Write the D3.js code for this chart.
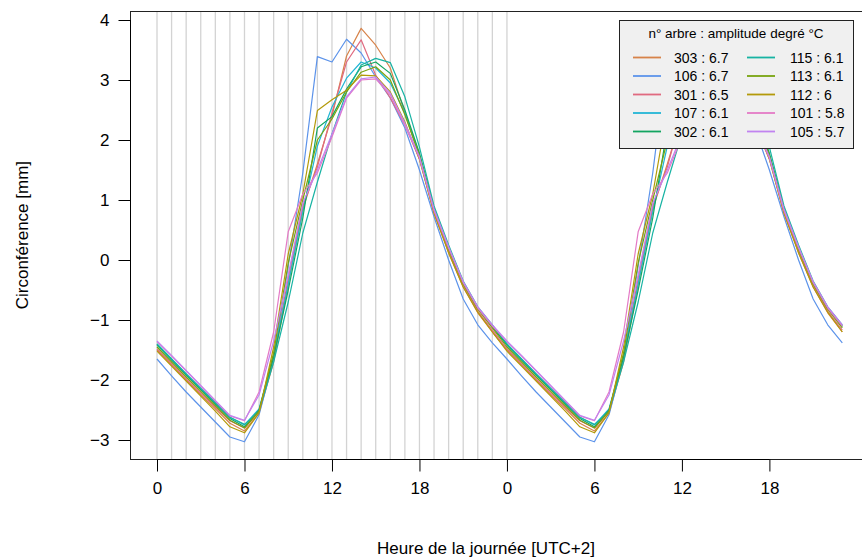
<!DOCTYPE html>
<html>
<head>
<meta charset="utf-8">
<script src="https://cdnjs.cloudflare.com/ajax/libs/d3/7.8.5/d3.min.js"></script>
<style>
  body { margin: 0; background: #fff; }
  text { font-family: "Liberation Sans", Arial, sans-serif; fill: #000; }
</style>
</head>
<body>
<div id="chart"></div>
<script>
// heures du cycle journalier (tracé sur deux jours)
var hours = d3.range(0, 48);
var tickValues = [0, 6, 12, 18, 24, 30, 36, 42];
var tickLabels = ["0", "6", "12", "18", "0", "6", "12", "18"];
var yTicks = [-3, -2, -1, 0, 1, 2, 3, 4];

var trees = ["303", "106", "301", "107", "302", "115", "113", "112", "101", "105"];
var amplitudes = ["6.7", "6.7", "6.5", "6.1", "6.1", "6.1", "6.1", "6", "5.8", "5.7"];
var colours = ["#d7834a", "#5c93ea", "#e06a80", "#22b5d5", "#13a561",
               "#17b3a3", "#78a30f", "#b39a0a", "#e47ac6", "#c183f0"];

// variation de circonférence moyenne par heure (0..23), mm
var t303 = [-1.50,-1.75,-2.00,-2.25,-2.48,-2.72,-2.85,-2.55,-1.70,-0.40,0.85,1.60,2.40,3.40,3.86,3.58,3.20,2.45,1.72,0.80,0.12,-0.45,-0.88,-1.20];
var t106 = [-1.65,-1.93,-2.20,-2.45,-2.70,-2.95,-3.03,-2.58,-1.65,-0.10,1.45,3.39,3.30,3.68,3.45,3.05,2.70,2.20,1.50,0.72,0.00,-0.65,-1.08,-1.38];
var t301 = [-1.48,-1.73,-1.98,-2.22,-2.45,-2.68,-2.80,-2.52,-1.62,-0.30,0.90,1.55,2.45,3.30,3.67,3.08,2.70,2.25,1.68,0.78,0.15,-0.42,-0.85,-1.17];
var t107 = [-1.40,-1.65,-1.90,-2.14,-2.38,-2.62,-2.75,-2.48,-1.58,-0.40,0.80,1.90,2.55,3.03,3.30,3.20,2.95,2.45,1.75,0.85,0.20,-0.38,-0.80,-1.10];
var t302 = [-1.42,-1.67,-1.92,-2.16,-2.40,-2.64,-2.78,-2.50,-1.62,-0.50,0.70,2.20,2.39,2.85,3.22,3.30,3.11,2.50,1.78,0.86,0.20,-0.38,-0.80,-1.11];
var t115 = [-1.40,-1.65,-1.90,-2.14,-2.38,-2.62,-2.74,-2.52,-1.70,-0.70,0.45,1.30,2.10,2.80,3.25,3.36,3.29,2.72,1.88,0.90,0.25,-0.35,-0.78,-1.08];
var t113 = [-1.45,-1.70,-1.95,-2.19,-2.43,-2.67,-2.80,-2.52,-1.55,-0.05,1.00,2.00,2.35,2.80,3.13,3.22,3.00,2.42,1.74,0.84,0.18,-0.40,-0.82,-1.13];
var t112 = [-1.52,-1.77,-2.02,-2.27,-2.52,-2.78,-2.88,-2.55,-1.45,0.10,1.10,2.49,2.67,2.83,3.08,3.07,2.80,2.30,1.68,0.78,0.12,-0.45,-0.87,-1.20];
var t101 = [-1.36,-1.60,-1.85,-2.10,-2.35,-2.60,-2.68,-2.20,-1.20,0.47,1.10,1.45,2.05,2.70,3.00,3.02,2.75,2.25,1.70,0.82,0.20,-0.38,-0.80,-1.10];
var t105 = [-1.35,-1.59,-1.84,-2.09,-2.34,-2.59,-2.67,-2.25,-1.35,-0.25,0.95,1.50,2.10,2.72,3.02,3.05,2.78,2.28,1.72,0.85,0.22,-0.36,-0.78,-1.08];

var daily = [t303, t106, t301, t107, t302, t115, t113, t112, t101, t105];

var width = 862, height = 557;

var svg = d3.select("#chart").append("svg")
  .attr("width", width)
  .attr("height", height);

svg.append("rect").attr("width", width).attr("height", height).attr("fill", "#fff");

var x = d3.scaleLinear().domain([0, 47]).range([157, 842.3]);
var y = d3.scaleLinear().domain([-3, 4]).range([440, 20]);

// zone du graphique (extension de 4 % comme R)
var x0 = x(-1.88), x1 = x(48.88);
var y0 = y(-3.32), y1 = y(4.15);

// lignes verticales grises pour chaque heure du premier jour
svg.append("g").selectAll("line")
  .data(d3.range(0, 25))
  .enter().append("line")
  .attr("x1", d => x(d)).attr("x2", d => x(d))
  .attr("y1", y1).attr("y2", y0)
  .attr("stroke", "#d3d3d3")
  .attr("stroke-width", 1.3);

// courbes, le cycle journalier est répété sur deux jours
var line = d3.line()
  .x((d, i) => x(hours[i]))
  .y(d => y(d));

svg.append("g").selectAll("path")
  .data(daily)
  .enter().append("path")
  .attr("d", d => line(d.concat(d)))
  .attr("fill", "none")
  .attr("stroke", (d, i) => colours[i])
  .attr("stroke-width", 1.2)
  .attr("stroke-linejoin", "round");

// cadre
svg.append("rect")
  .attr("x", Math.round(x0) + 0.5).attr("y", Math.round(y1) + 0.5)
  .attr("width", x1 - x0).attr("height", Math.round(y0) - Math.round(y1))
  .attr("fill", "none")
  .attr("stroke", "#222")
  .attr("stroke-width", 1);

// axe x
var xAxis = d3.axisBottom(x)
  .tickValues(tickValues)
  .tickFormat((d, i) => tickLabels[i])
  .tickSize(12)
  .tickPadding(10);

var gx = svg.append("g")
  .attr("transform", "translate(0," + (Math.round(y0) + 0.5) + ")")
  .call(xAxis);
gx.select(".domain").attr("d", "M" + x(0) + ",0H" + x(42)).attr("stroke", "#000");
gx.selectAll("text").style("font-size", "17px").style("font-family", "Liberation Sans, Arial, sans-serif");

// axe y
var yAxis = d3.axisLeft(y)
  .tickValues(yTicks)
  .tickFormat(d => d < 0 ? "\u2212" + Math.abs(d) : d)
  .tickSize(12)
  .tickPadding(9);

var gy = svg.append("g")
  .attr("transform", "translate(" + (Math.round(x0) + 0.5) + ",0)")
  .call(yAxis);
gy.select(".domain").attr("d", "M0," + y(-3) + "V" + y(4)).attr("stroke", "#000");
gy.selectAll("text").style("font-size", "17px").style("font-family", "Liberation Sans, Arial, sans-serif");

// titres
svg.append("text")
  .attr("x", 486).attr("y", 554)
  .attr("text-anchor", "middle")
  .style("font-size", "17px")
  .text("Heure de la journée [UTC+2]");

svg.append("text")
  .attr("transform", "translate(28," + ((y0 + y1) / 2) + ") rotate(-90)")
  .attr("text-anchor", "middle")
  .style("font-size", "17px")
  .text("Circonférence [mm]");

// légende
var legend = svg.append("g");
legend.append("rect")
  .attr("x", 619.5).attr("y", 20.5)
  .attr("width", 234).attr("height", 128)
  .attr("fill", "#f0f0f0")
  .attr("stroke", "#222");

legend.append("text")
  .attr("x", 736).attr("y", 38)
  .attr("text-anchor", "middle")
  .style("font-size", "13.5px")
  .text("n° arbre : amplitude degré °C");

var items = legend.selectAll(".item")
  .data(trees)
  .enter().append("g")
  .attr("class", "item")
  .attr("transform", (d, i) => "translate(" + (i < 5 ? 633 : 747) + "," + (57.5 + (i % 5) * 18.5) + ")");

items.append("line")
  .attr("x1", 0).attr("x2", 28)
  .attr("stroke", (d, i) => colours[i])
  .attr("stroke-width", 1.8);

items.append("text")
  .attr("x", (d, i) => i < 5 ? 41 : 43)
  .attr("y", 5)
  .style("font-size", "14px")
  .text((d, i) => d + " : " + amplitudes[i]);
</script>
</body>
</html>
